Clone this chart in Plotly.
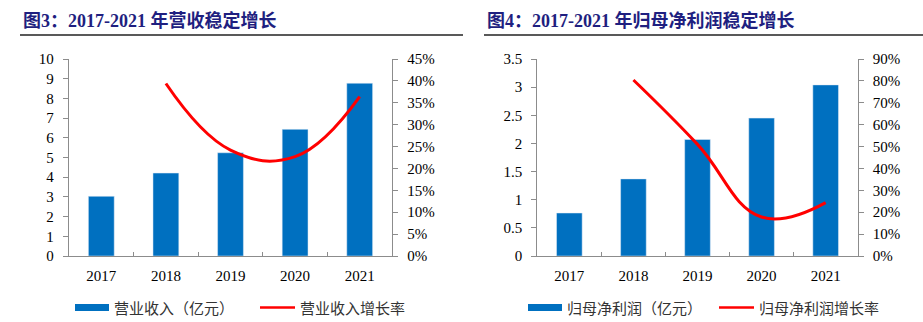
import plotly.graph_objects as go

W, H = 923, 322

years = ["2017", "2018", "2019", "2020", "2021"]
revenue = [3.03, 4.21, 5.24, 6.43, 8.77]
revenue_growth_years = ["2018", "2019", "2020", "2021"]
revenue_growth = [0.394, 0.242, 0.227, 0.364]
profit = [0.764, 1.37, 2.07, 2.45, 3.04]
profit_growth_years = ["2018", "2019", "2020", "2021"]
profit_growth = [0.804, 0.51, 0.178, 0.244]

title_left = "图3：2017-2021 年营收稳定增长"
title_right = "图4：2017-2021 年归母净利润稳定增长"
legend_left = ["营业收入（亿元）", "营业收入增长率"]
legend_right = ["归母净利润（亿元）", "归母净利润增长率"]

BLUE = "#0070C0"
RED = "#FF0000"
AXIS = "#8C8C8C"
TICKFONT = dict(family="Liberation Serif, Times New Roman, serif", size=15, color="#000")


def px(x):
    return x / W


def py(y):
    return 1 - y / H


fig = go.Figure()

fig.add_trace(go.Bar(x=years, y=revenue, marker_color=BLUE, width=0.4,
                     xaxis="x", yaxis="y", showlegend=False, name=legend_left[0]))
fig.add_trace(go.Scatter(x=revenue_growth_years, y=revenue_growth, mode="lines",
                         line=dict(color=RED, width=3, shape="spline", smoothing=1.2),
                         xaxis="x", yaxis="y2", showlegend=False, name=legend_left[1]))
fig.add_trace(go.Bar(x=years, y=profit, marker_color=BLUE, width=0.4,
                     xaxis="x2", yaxis="y3", showlegend=False, name=legend_right[0]))
fig.add_trace(go.Scatter(x=profit_growth_years, y=profit_growth, mode="lines",
                         line=dict(color=RED, width=3, shape="spline", smoothing=1.2),
                         xaxis="x2", yaxis="y4", showlegend=False, name=legend_right[1]))

ydom = [py(256), py(59)]
xdom1 = [px(69), px(392)]
xdom2 = [px(537.3), px(857.7)]

xcommon = dict(type="category", showline=True, linecolor=AXIS, linewidth=1.3,
               ticks="inside", ticklen=4, tickcolor=AXIS, tickson="boundaries",
               tickfont=TICKFONT, showgrid=False, zeroline=False, ticklabelstandoff=6,
               fixedrange=True, automargin=False)
ycommon = dict(showline=True, linecolor=AXIS, linewidth=1.3, ticks="outside",
               ticklen=5, tickcolor=AXIS, tickfont=TICKFONT, showgrid=False,
               zeroline=False, domain=ydom, fixedrange=True, automargin=False)

fig.update_layout(
    width=W, height=H, margin=dict(l=0, r=0, t=0, b=0, pad=0), autosize=False,
    showlegend=False,
    paper_bgcolor="white", plot_bgcolor="white", bargap=0.6,
    xaxis=dict(domain=xdom1, anchor="y", **xcommon),
    yaxis=dict(range=[0, 10], dtick=1, anchor="x", side="left", ticklabelstandoff=6, **ycommon),
    yaxis2=dict(range=[0, 0.45], dtick=0.05, tickformat=".0%", overlaying="y",
                anchor="x", side="right", ticklabelstandoff=6, **ycommon),
    xaxis2=dict(domain=xdom2, anchor="y3", **xcommon),
    yaxis3=dict(range=[0, 3.5], dtick=0.5, anchor="x2", side="left", ticklabelstandoff=6, **ycommon),
    yaxis4=dict(range=[0, 0.9], dtick=0.1, tickformat=".0%", overlaying="y3",
                anchor="x2", side="right", ticklabelstandoff=6, **ycommon),
)

shapes = []
annotations = []

# titles and rules
TFONT = dict(family="Liberation Serif, Noto Sans CJK SC, serif", size=18, color="#1F1F80")
annotations.append(dict(text="<b>" + title_left + "</b>", x=px(21), y=py(20.5), xref="paper", yref="paper",
                        xanchor="left", yanchor="middle", showarrow=False, font=TFONT))
annotations.append(dict(text="<b>" + title_right + "</b>", x=px(485), y=py(20.5), xref="paper", yref="paper",
                        xanchor="left", yanchor="middle", showarrow=False, font=TFONT))
shapes.append(dict(type="line", xref="paper", yref="paper", x0=px(20), x1=px(463), y0=py(35), y1=py(35),
                   line=dict(color="#222", width=1.5)))
shapes.append(dict(type="line", xref="paper", yref="paper", x0=px(484), x1=px(923), y0=py(35), y1=py(35),
                   line=dict(color="#222", width=1.5)))

# custom legends
LFONT = dict(family="Noto Sans CJK SC, sans-serif", size=15, color="#333")


def add_legend(rx, tx1, lx, tx2, labels):
    shapes.append(dict(type="rect", xref="paper", yref="paper", x0=px(rx), x1=px(rx + 34),
                       y0=py(311), y1=py(304), line=dict(width=0), fillcolor=BLUE))
    annotations.append(dict(text=labels[0], x=px(tx1), y=py(307.5), xref="paper", yref="paper",
                            xanchor="left", yanchor="middle", showarrow=False, font=LFONT))
    shapes.append(dict(type="line", xref="paper", yref="paper", x0=px(lx), x1=px(lx + 35),
                       y0=py(307.5), y1=py(307.5), line=dict(color=RED, width=2.5)))
    annotations.append(dict(text=labels[1], x=px(tx2), y=py(307.5), xref="paper", yref="paper",
                            xanchor="left", yanchor="middle", showarrow=False, font=LFONT))


add_legend(75, 112, 260, 298, legend_left)
add_legend(528, 565, 719, 757, legend_right)

fig.update_layout(shapes=shapes, annotations=annotations)

fig.write_html("out.html")
